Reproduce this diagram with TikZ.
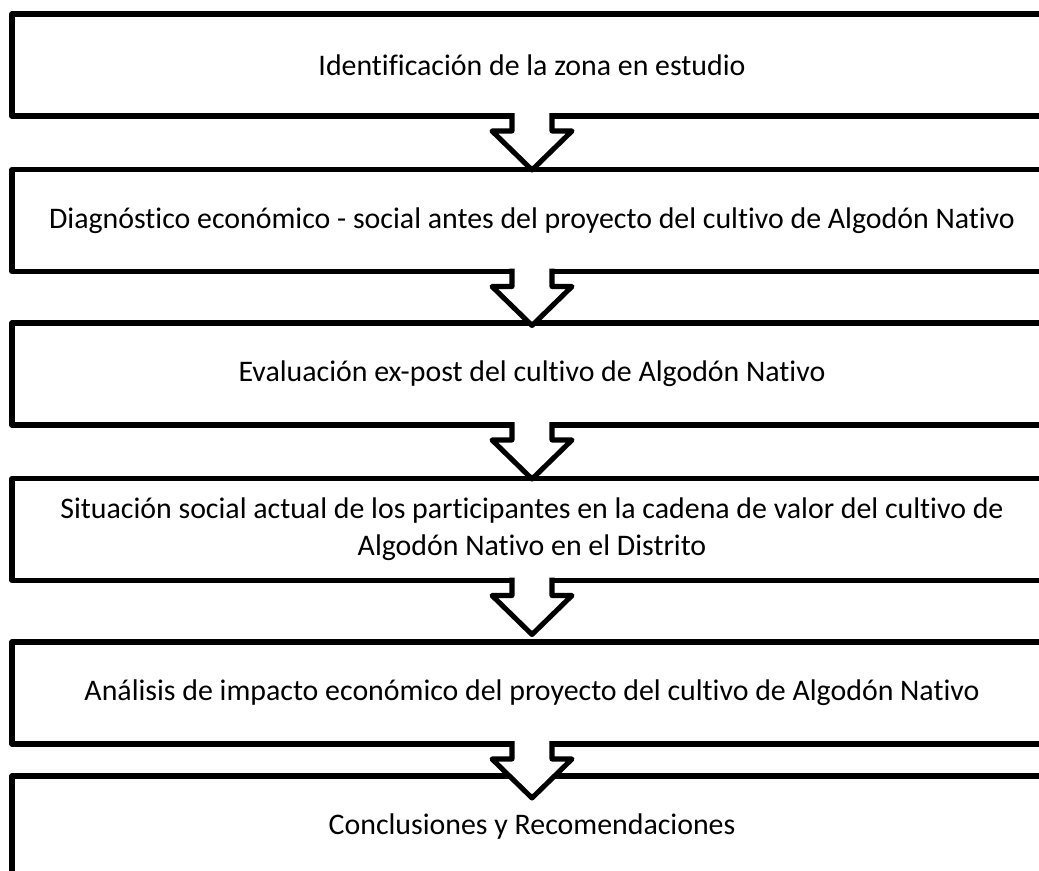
\documentclass[tikz,border=0pt]{standalone}
\usepackage{fontspec}
\setmainfont[Ligatures={CommonOff,ContextualOff,RareOff}, Contextuals=AlternateOff]{Carlito}
\usetikzlibrary{calc}
\tikzstyle{paso} = [draw=black, fill=white, line width=3.8pt, rectangle, outer sep=0pt, minimum width=780pt, minimum height=76.5pt, align=center, font=\fontsize{22.4}{27.75}\selectfont]
\tikzstyle{flecha} = [draw=black, fill=white, line width=3.8pt]

\begin{document}
\begin{tikzpicture}[x=0.75pt, y=-0.75pt, line join=round]
\useasboundingbox (0,0) rectangle (1039,871);
\clip (0,0) rectangle (1039,871);
\node [paso] (zona) at (532,65) {Identificación de la zona en estudio};
\node [paso] (diag) at (532,220.5) {Diagnóstico económico - social antes del proyecto del cultivo de Algodón Nativo};
\node [paso] (eval) at (532,374) {Evaluación ex-post del cultivo de Algodón Nativo};
\node [paso] (situ) at (532,529.5) {Situación social actual de los participantes en la cadena de valor del cultivo de\\Algodón Nativo en el Distrito};
\node [paso] (anal) at (532,693) {Análisis de impacto económico del proyecto del cultivo de Algodón Nativo};
\node [paso] (conc) at (532,827) {Conclusiones y Recomendaciones};
\foreach \a/\b in {zona/diag, diag/eval, eval/situ, situ/anal, anal/conc}{
  \coordinate (punta) at ($(\a.south)!40.5pt!(\b.north)$);
  \filldraw [flecha] (\a.south) ++(-20,-3) -- ++(0,18) -- ++(-20,0) -- (punta) -- ++(40,-39) -- ++(-20,0) -- ++(0,-18);
}
\end{tikzpicture}
\end{document}
